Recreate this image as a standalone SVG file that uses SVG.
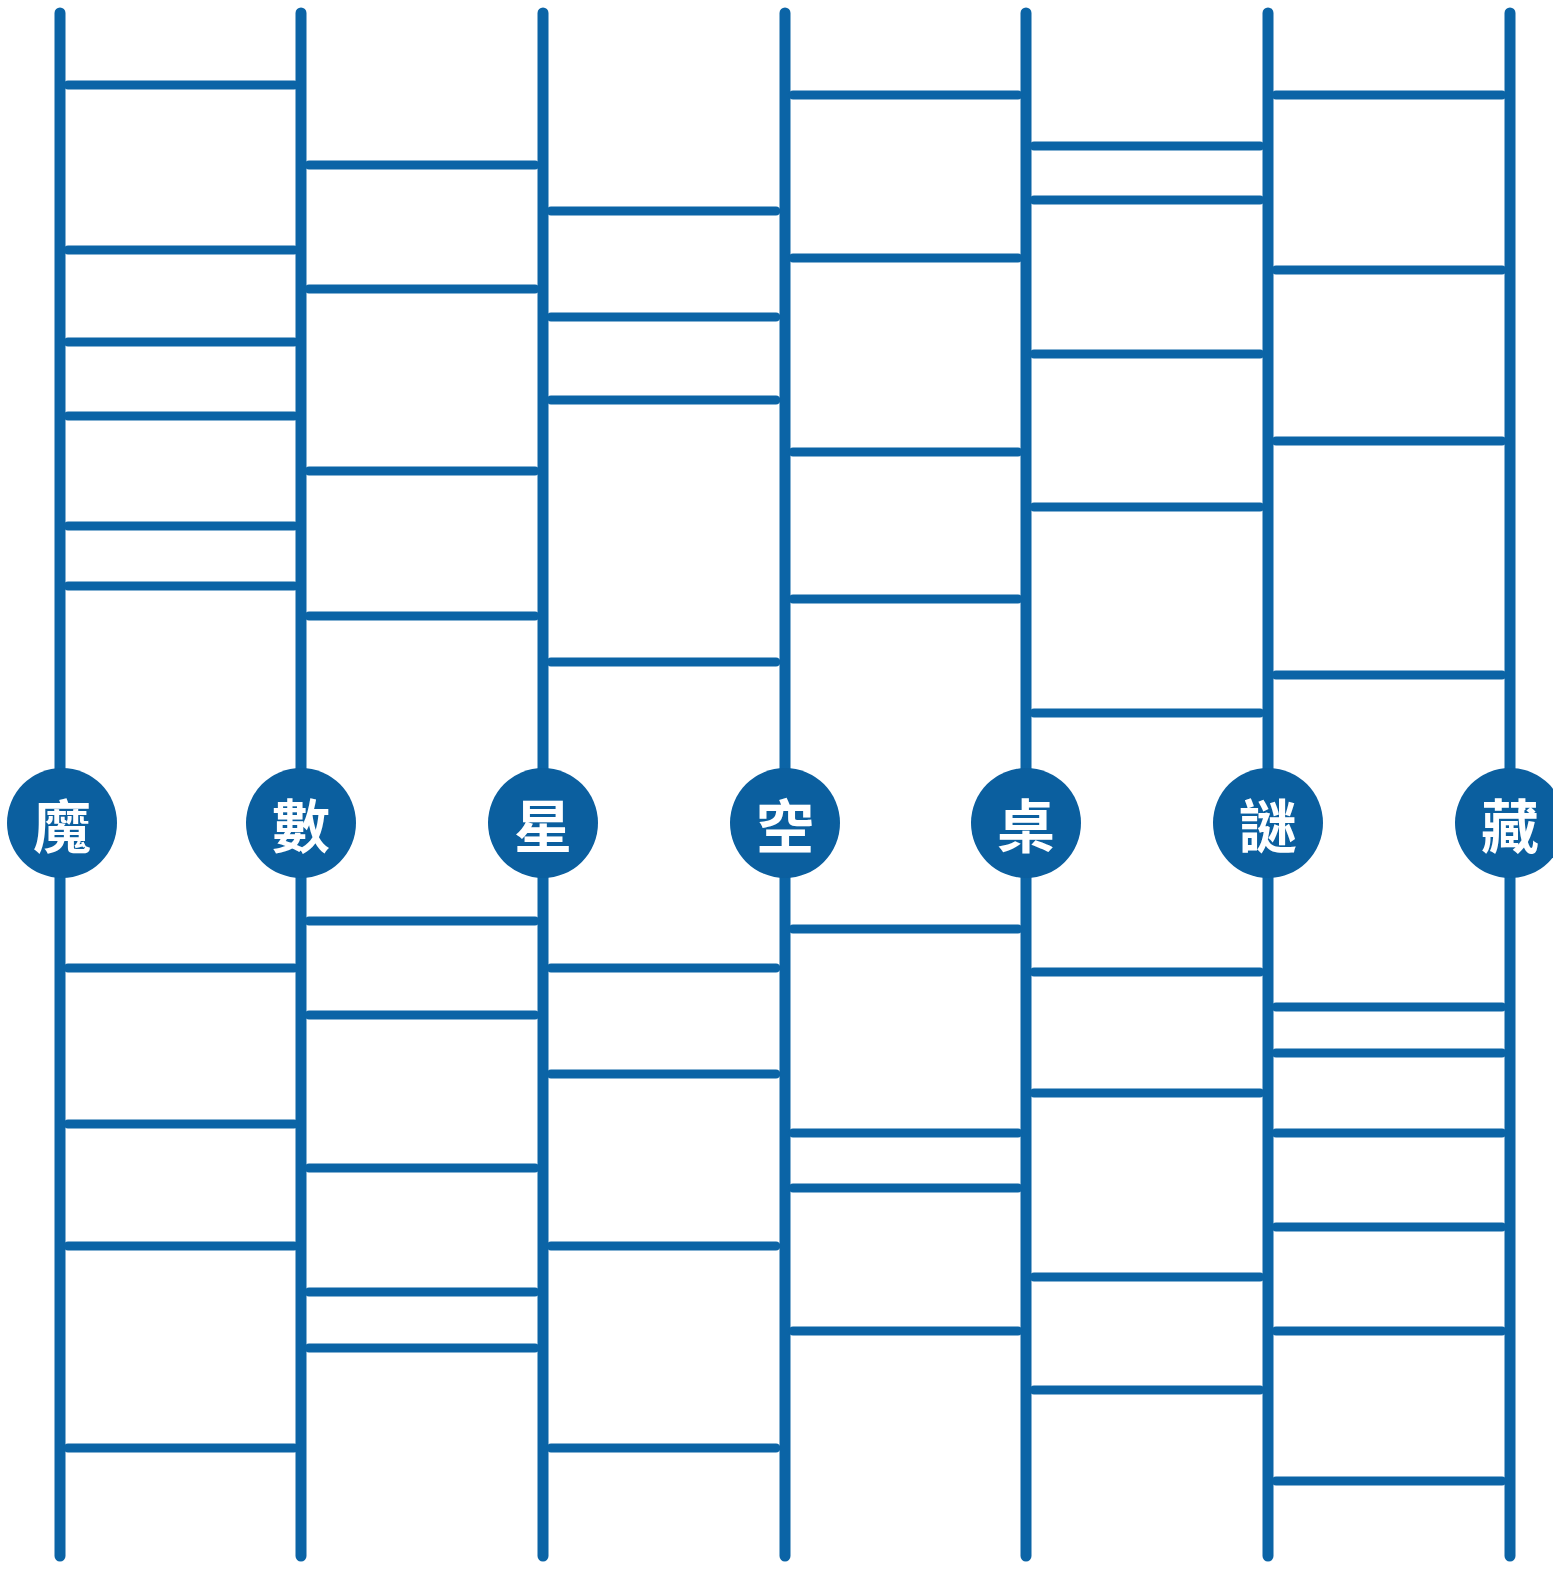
<svg xmlns="http://www.w3.org/2000/svg" width="1553" height="1569" viewBox="0 0 1553 1569">
<style>
.rail{stroke:#0b64a6;stroke-width:11;stroke-linecap:round;fill:none}
.rung{stroke:#0b64a6;stroke-width:9;stroke-linecap:round;fill:none}
.node circle{fill:#0b5f9f}
.node text{fill:#ffffff;font-family:"Noto Sans CJK TC","Noto Sans CJK SC",sans-serif;font-size:58px;font-weight:700;text-anchor:middle;dominant-baseline:central}
</style>
<rect width="1553" height="1569" fill="#ffffff"/>
<g id="connectors">
<g id="rails">
<line class="rail" x1="60" y1="13" x2="60" y2="1556"/>
<line class="rail" x1="301" y1="13" x2="301" y2="1556"/>
<line class="rail" x1="543" y1="13" x2="543" y2="1556"/>
<line class="rail" x1="785" y1="13" x2="785" y2="1556"/>
<line class="rail" x1="1026" y1="13" x2="1026" y2="1556"/>
<line class="rail" x1="1268" y1="13" x2="1268" y2="1556"/>
<line class="rail" x1="1510" y1="13" x2="1510" y2="1556"/>
</g>
<g id="rungs">
<path class="rung" d="M68 85H294M68 250H294M68 342H294M68 416H294M68 526H294M68 586H294M68 968H294M68 1124H294M68 1246H294M68 1448H294"/>
<path class="rung" d="M309 165H535M309 289H535M309 471H535M309 616H535M309 921H535M309 1015H535M309 1168H535M309 1292H535M309 1348H535"/>
<path class="rung" d="M551 211H776M551 317H776M551 400H776M551 662H776M551 968H776M551 1074H776M551 1246H776M551 1448H776"/>
<path class="rung" d="M793 95H1018M793 258H1018M793 452H1018M793 599H1018M793 929H1018M793 1133H1018M793 1188H1018M793 1331H1018"/>
<path class="rung" d="M1034 146H1260M1034 200H1260M1034 354H1260M1034 507H1260M1034 713H1260M1034 972H1260M1034 1093H1260M1034 1277H1260M1034 1390H1260"/>
<path class="rung" d="M1276 95H1502M1276 270H1502M1276 441H1502M1276 675H1502M1276 1007H1502M1276 1053H1502M1276 1133H1502M1276 1227H1502M1276 1331H1502M1276 1481H1502"/>
</g>
</g>
<g id="node-1" class="node"><circle cx="62" cy="823" r="55"/><text x="62" y="823">魔</text></g>
<g id="node-2" class="node"><circle cx="301" cy="823" r="55"/><text x="301" y="823">數</text></g>
<g id="node-3" class="node"><circle cx="543" cy="823" r="55"/><text x="543" y="823">星</text></g>
<g id="node-4" class="node"><circle cx="785" cy="823" r="55"/><text x="785" y="823">空</text></g>
<g id="node-5" class="node"><circle cx="1026" cy="823" r="55"/><text x="1026" y="823">桌</text></g>
<g id="node-6" class="node"><circle cx="1268" cy="823" r="55"/><text x="1268" y="823">謎</text></g>
<g id="node-7" class="node"><circle cx="1510" cy="823" r="55"/><text x="1510" y="823">藏</text></g>
</svg>
